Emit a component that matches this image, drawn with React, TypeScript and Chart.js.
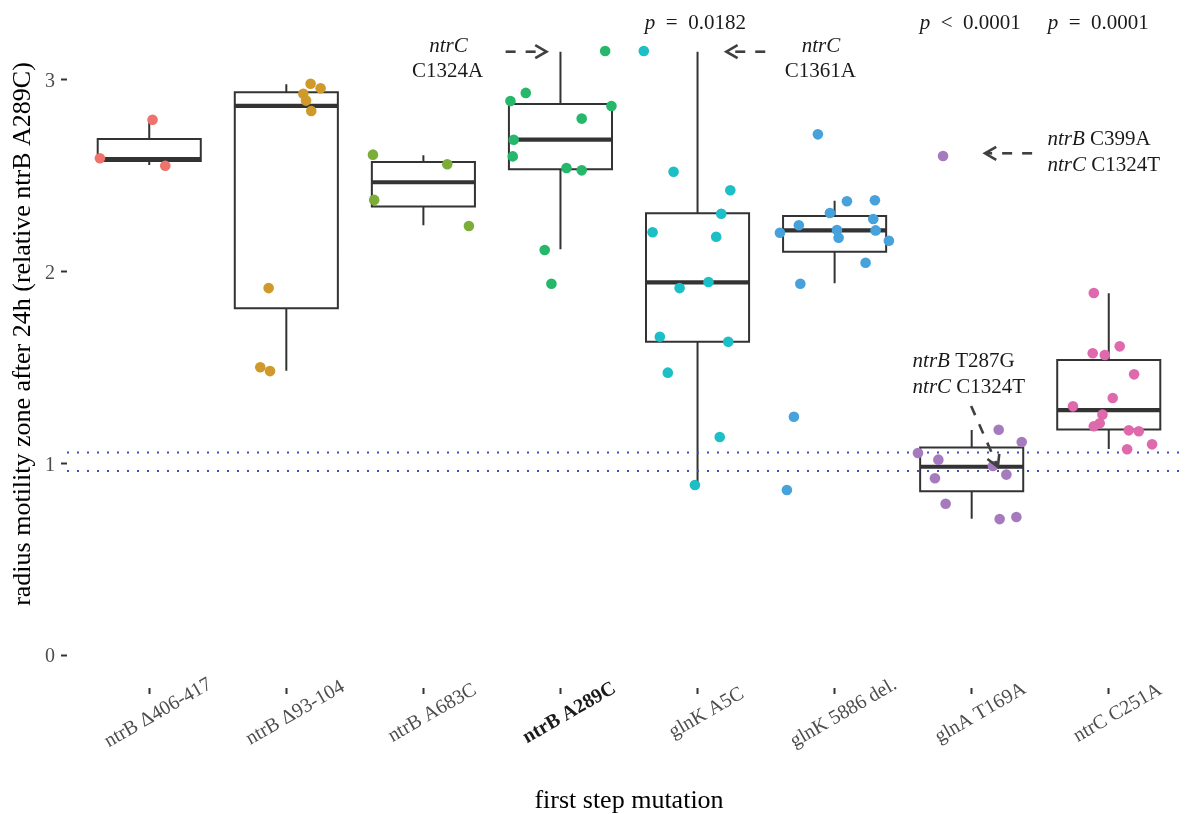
import React, { useEffect, useRef } from "react";
import { Chart, registerables } from "chart.js";

Chart.register(...registerables);

// ---------- data ----------
const CATEGORIES = [
  "ntrB Δ406-417",
  "ntrB Δ93-104",
  "ntrB A683C",
  "ntrB A289C",
  "glnK A5C",
  "glnK 5886 del.",
  "glnA T169A",
  "ntrC C251A",
];
const BOLD_CATEGORY = 3;

const COLORS = ["#EE736C", "#D0992B", "#7CAD3B", "#25B76A", "#1BBFC5", "#47A1DB", "#A67BBD", "#DE69AC"];

const G1_VALUES = [2.792, 2.591, 2.552];
const G1_JITTER = [0.024, -0.36, 0.117];
const G2_VALUES = [2.98, 2.956, 2.928, 2.892, 2.838, 1.914, 1.501, 1.481];
const G2_JITTER = [0.177, 0.25, 0.124, 0.144, 0.182, -0.129, -0.19, -0.119];
const G3_VALUES = [2.61, 2.374, 2.56, 2.238];
const G3_JITTER = [-0.368, -0.359, 0.174, 0.332];
const G4_VALUES = [3.151, 2.932, 2.89, 2.864, 2.798, 2.688, 2.601, 2.54, 2.528, 2.113, 1.937];
const G4_JITTER = [0.326, -0.253, -0.365, 0.372, 0.155, -0.341, -0.348, 0.044, 0.155, -0.115, -0.066];
const G5_VALUES = [3.151, 2.521, 2.424, 2.302, 2.205, 2.182, 1.946, 1.914, 1.66, 1.634, 1.473, 1.137, 0.887];
const G5_JITTER = [-0.392, -0.175, 0.239, 0.173, -0.328, 0.136, 0.08, -0.131, -0.275, 0.224, -0.217, 0.162, -0.019];
const G6_VALUES = [2.716, 2.367, 2.372, 2.306, 2.274, 2.242, 2.203, 2.217, 2.177, 2.215, 2.161, 2.046, 1.937, 1.243, 0.861];
const G6_JITTER = [-0.122, 0.09, 0.294, -0.034, 0.282, -0.261, -0.399, 0.017, 0.029, 0.299, 0.396, 0.226, -0.25, -0.297, -0.348];
const G7_VALUES = [2.603, 1.175, 1.111, 1.054, 1.019, 0.986, 0.922, 0.941, 0.789, 0.709, 0.72];
const G7_JITTER = [-0.209, 0.197, 0.365, -0.392, -0.243, 0.155, -0.268, 0.253, -0.19, 0.204, 0.326];
const G8_VALUES = [1.888, 1.61, 1.574, 1.565, 1.464, 1.341, 1.297, 1.254, 1.209, 1.193, 1.172, 1.167, 1.099, 1.073];
const G8_JITTER = [-0.109, 0.08, -0.117, -0.029, 0.185, 0.029, -0.261, -0.046, -0.066, -0.109, 0.146, 0.219, 0.316, 0.134];

const GROUP_VALUES = [G1_VALUES, G2_VALUES, G3_VALUES, G4_VALUES, G5_VALUES, G6_VALUES, G7_VALUES, G8_VALUES];
const GROUP_JITTER = [G1_JITTER, G2_JITTER, G3_JITTER, G4_JITTER, G5_JITTER, G6_JITTER, G7_JITTER, G8_JITTER];

// box statistics
const BOX_LOW = [2.556, 1.483, 2.242, 2.116, 0.887, 1.939, 0.711, 1.075];
const BOX_Q1 = [2.577, 1.809, 2.339, 2.534, 1.634, 2.104, 0.854, 1.177];
const BOX_MEDIAN = [2.587, 2.864, 2.466, 2.688, 1.944, 2.215, 0.982, 1.277];
const BOX_Q3 = [2.692, 2.935, 2.572, 2.874, 2.304, 2.29, 1.083, 1.539];
const BOX_HIGH = [2.792, 2.977, 2.607, 3.147, 3.147, 2.37, 1.174, 1.887];

const REF_LINES = [1.057, 0.96];
const Y_TICKS = [0, 1, 2, 3];

// annotations (data coordinates)
const P_LABELS = ["= 0.0182", "< 0.0001", "= 0.0001"];
const P_X = [3.984, 5.99, 6.923];
const P_Y = [3.264, 3.264, 3.264];

type Part = [string, boolean];
const NOTE_LINES: Part[][] = [
  [["ntrC", true]],
  [["C1324A", false]],
  [["ntrC", true]],
  [["C1361A", false]],
  [["ntrB", true], [" C399A", false]],
  [["ntrC", true], [" C1324T", false]],
  [["ntrB", true], [" T287G", false]],
  [["ntrC", true], [" C1324T", false]],
];
const NOTE_X = [2.183, 2.176, 4.901, 4.896, 6.553, 6.553, 5.569, 5.569];
const NOTE_Y = [3.143, 3.013, 3.143, 3.013, 2.66, 2.526, 1.504, 1.368];
const NOTE_ALIGN = ["center", "center", "center", "center", "left", "left", "left", "left"];

const ARROW_X0 = [2.6, 4.494, 6.441, 5.996];
const ARROW_Y0 = [3.147, 3.147, 2.617, 1.299];
const ARROW_X1 = [2.898, 4.21, 6.097, 6.191];
const ARROW_Y1 = [3.147, 3.147, 2.617, 0.982];

// ---------- style ----------
const FONT = '"Liberation Serif", "Times New Roman", Times, serif';
const X_MIN = -0.6;
const X_MAX = 7.6;
const Y_MIN = -0.172;
const Y_MAX = 3.521;
const BOX_HALF = 0.376;
const INK = "#333333";

function drawParts(ctx: CanvasRenderingContext2D, parts: Part[], x: number, y: number, align: string, size: number) {
  const fontOf = (it: boolean) => `${it ? "italic " : ""}${size}px ${FONT}`;
  let total = 0;
  for (const [t, it] of parts) {
    ctx.font = fontOf(it);
    total += ctx.measureText(t).width;
  }
  let cx = align === "center" ? x - total / 2 : x;
  ctx.textAlign = "left";
  ctx.textBaseline = "alphabetic";
  for (const [t, it] of parts) {
    ctx.font = fontOf(it);
    ctx.fillText(t, cx, y);
    cx += ctx.measureText(t).width;
  }
}

const overlayPlugin = {
  id: "overlay",
  afterDraw(chart: any) {
    const ctx: CanvasRenderingContext2D = chart.ctx;
    const xs = chart.scales.x;
    const ys = chart.scales.y;
    const area = chart.chartArea;
    ctx.save();
    // x tick labels, rotated 30 degrees, centred under the tick
    CATEGORIES.forEach((label, i) => {
      const px = xs.getPixelForValue(i);
      ctx.save();
      ctx.translate(px + 9, area.bottom + 25);
      ctx.rotate((-30 * Math.PI) / 180);
      ctx.font = `${i === BOLD_CATEGORY ? "bold " : ""}20px ${FONT}`;
      ctx.fillStyle = i === BOLD_CATEGORY ? "#1a1a1a" : "#4D4D4D";
      ctx.textAlign = "center";
      ctx.textBaseline = "middle";
      ctx.fillText(label, 0, 0);
      ctx.restore();
    });

    ctx.fillStyle = "#1a1a1a";
    // p-values
    P_LABELS.forEach((t, i) => {
      drawParts(ctx, [["p", true], ["\u2002" + t.replace(" ", "\u2002"), false]], xs.getPixelForValue(P_X[i]), ys.getPixelForValue(P_Y[i]), "center", 21);
    });
    // notes
    NOTE_LINES.forEach((parts, i) => {
      drawParts(ctx, parts, xs.getPixelForValue(NOTE_X[i]), ys.getPixelForValue(NOTE_Y[i]), NOTE_ALIGN[i], 21);
    });
    // dashed arrows
    ctx.strokeStyle = "#404040";
    ctx.lineWidth = 2.6;
    ARROW_X0.forEach((_, i) => {
      const x0 = xs.getPixelForValue(ARROW_X0[i]);
      const y0 = ys.getPixelForValue(ARROW_Y0[i]);
      const x1 = xs.getPixelForValue(ARROW_X1[i]);
      const y1 = ys.getPixelForValue(ARROW_Y1[i]);
      ctx.setLineDash([10, 10]);
      ctx.beginPath();
      ctx.moveTo(x0, y0);
      ctx.lineTo(x1, y1);
      ctx.stroke();
      ctx.setLineDash([]);
      const ang = Math.atan2(y1 - y0, x1 - x0);
      const len = 13;
      const spread = (30 * Math.PI) / 180;
      ctx.beginPath();
      ctx.moveTo(x1 - len * Math.cos(ang - spread), y1 - len * Math.sin(ang - spread));
      ctx.lineTo(x1, y1);
      ctx.lineTo(x1 - len * Math.cos(ang + spread), y1 - len * Math.sin(ang + spread));
      ctx.stroke();
    });
    ctx.restore();
  },
};

export default function App() {
  const ref = useRef<HTMLCanvasElement>(null);

  useEffect(() => {
    const canvas = ref.current;
    if (!canvas) return;

    const datasets: any[] = [];
    GROUP_VALUES.forEach((vals, g) => {
      datasets.push({
        type: "scatter",
        data: vals.map((v, k) => ({ x: g + GROUP_JITTER[g][k], y: v })),
        backgroundColor: COLORS[g],
        borderWidth: 0,
        pointRadius: 5.3,
        pointHoverRadius: 5.3,
        order: 0,
      });
    });

    REF_LINES.forEach((v) => {
      datasets.push({
        type: "line",
        data: [
          { x: X_MIN, y: v },
          { x: X_MAX, y: v },
        ],
        borderColor: "#3D52B4",
        borderWidth: 2,
        borderDash: [2, 8],
        pointRadius: 0,
        fill: false,
        order: 1,
      });
    });

    const rect: any[] = [];
    const whisk: any[] = [];
    const med: any[] = [];
    CATEGORIES.forEach((_, i) => {
      const l = i - BOX_HALF;
      const r = i + BOX_HALF;
      rect.push(
        { x: i, y: BOX_Q1[i] },
        { x: r, y: BOX_Q1[i] },
        { x: r, y: BOX_Q3[i] },
        { x: l, y: BOX_Q3[i] },
        { x: l, y: BOX_Q1[i] },
        { x: i, y: BOX_Q1[i] },
        { x: i, y: null }
      );
      whisk.push(
        { x: i, y: BOX_Q3[i] },
        { x: i, y: BOX_HIGH[i] },
        { x: i, y: null },
        { x: i, y: BOX_Q1[i] },
        { x: i, y: BOX_LOW[i] },
        { x: i, y: null }
      );
      med.push({ x: l, y: BOX_MEDIAN[i] }, { x: r, y: BOX_MEDIAN[i] }, { x: i, y: null });
    });
    const lineDs = (data: any[], width: number) => ({
      type: "line",
      data,
      borderColor: INK,
      borderWidth: width,
      pointRadius: 0,
      spanGaps: false,
      fill: false,
      tension: 0,
      borderJoinStyle: "miter",
      order: 2,
    });
    datasets.push(lineDs(rect, 2), lineDs(whisk, 2), lineDs(med, 4.2));

    const zeroPad = (s: any) => {
      s.paddingTop = 0;
      s.paddingBottom = 0;
      s.paddingLeft = 0;
      s.paddingRight = 0;
    };

    const chart = new Chart(canvas, {
      type: "scatter",
      data: { datasets },
      plugins: [overlayPlugin],
      options: {
        animation: false,
        responsive: false,
        devicePixelRatio: 1,
        layout: { padding: 0, autoPadding: false },
        plugins: { legend: { display: false }, tooltip: { enabled: false } },
        scales: {
          x: {
            type: "linear",
            min: X_MIN,
            max: X_MAX,
            afterBuildTicks: (s: any) => {
              s.ticks = CATEGORIES.map((_, i) => ({ value: i }));
            },
            afterFit: (s: any) => {
              s.height = 126;
              zeroPad(s);
            },
            border: { display: false },
            grid: { display: true, drawOnChartArea: false, drawTicks: true, tickLength: 6, tickColor: INK, tickWidth: 2 },
            ticks: { display: false },
            title: {
              display: true,
              text: "first step mutation",
              color: "#000",
              font: { family: FONT, size: 26 },
              padding: { top: 0, bottom: -3 },
            },
          },
          y: {
            type: "linear",
            min: Y_MIN,
            max: Y_MAX,
            afterBuildTicks: (s: any) => {
              s.ticks = Y_TICKS.map((v) => ({ value: v }));
            },
            afterFit: (s: any) => {
              s.width = 67;
              zeroPad(s);
            },
            border: { display: false },
            grid: { display: true, drawOnChartArea: false, drawTicks: true, tickLength: 6, tickColor: INK, tickWidth: 2 },
            ticks: { color: "#4D4D4D", font: { family: FONT, size: 20 }, padding: 6, labelOffset: 2 },
            title: {
              display: true,
              text: "radius motility zone after 24h (relative ntrB A289C)",
              color: "#000",
              font: { family: FONT, size: 26 },
              padding: { top: 8, bottom: 0 },
            },
          },
        },
      } as any,
    } as any);

    return () => chart.destroy();
  }, []);

  return (
    <div style={{ position: "fixed", left: 0, top: 0, width: 1186, height: 814, overflow: "hidden", background: "#fff" }}>
      <canvas ref={ref} width={1191} height={834} style={{ position: "absolute", left: 0, top: -20, display: "block" }} />
    </div>
  );
}
